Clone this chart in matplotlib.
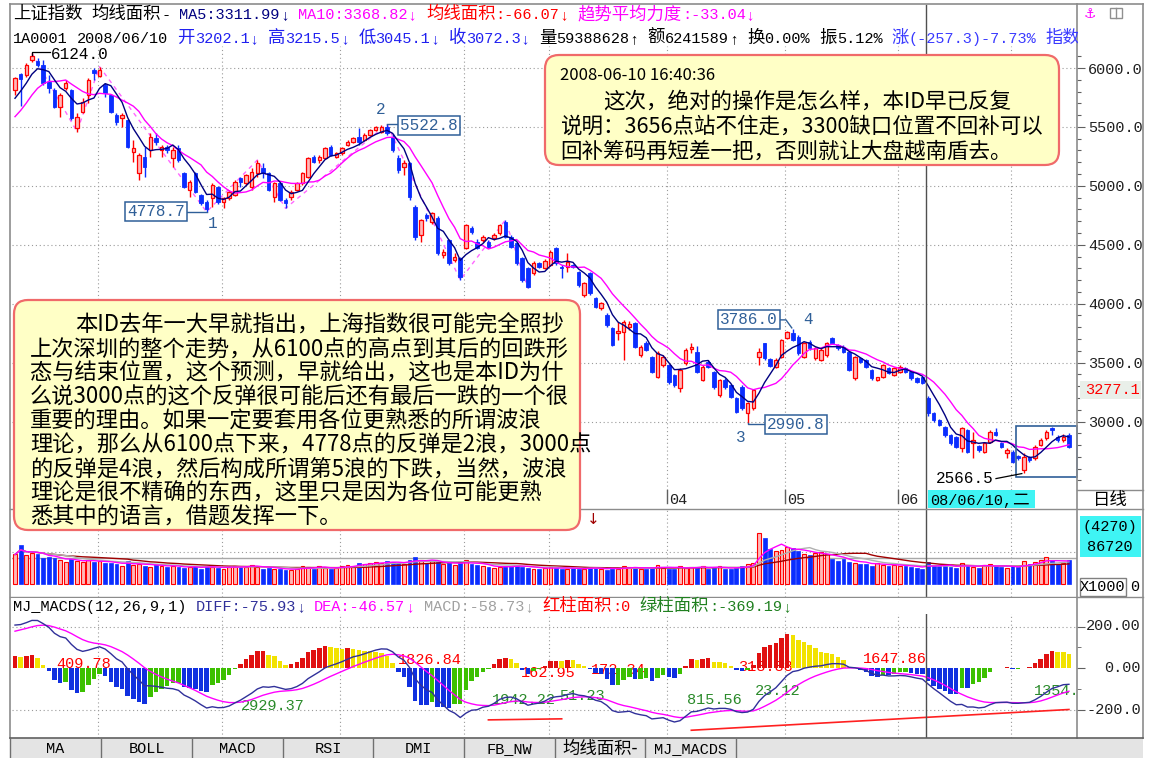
import numpy as np
import pandas as pd
import matplotlib
matplotlib.use("Agg")
import matplotlib.pyplot as plt
from matplotlib.patches import Rectangle, FancyBboxPatch

W, H = 1149, 758

# ---------------- data ----------------
open_p = [
    5813, 5950, 5941, 6068, 6062, 6025, 5884, 5813, 5672, 5827,
    5813, 5488, 5629, 5771, 5983, 5932, 5856, 5771, 5601, 5573,
    5559, 5290, 5106, 5247, 5304, 5403, 5304, 5332, 5233, 5318,
    5106, 4965, 5106, 4922, 4866, 4894, 4993, 4866, 4894, 4922,
    5064, 5021, 4993, 5106, 5148, 5106, 4908, 5021, 4880, 4908,
    4965, 5021, 5078, 5247, 5219, 5233, 5332, 5247, 5276, 5346,
    5375, 5417, 5389, 5431, 5474, 5460, 5502, 5417, 5233, 5163,
    5191, 4823, 4583, 4752, 4696, 4724, 4413, 4540, 4370, 4385,
    4470, 4640, 4526, 4540, 4526, 4555, 4597, 4696, 4569, 4512,
    4385, 4300, 4257, 4342, 4300, 4328, 4470, 4314, 4314, 4328,
    4271, 4073, 4257, 4045, 3960, 3904, 3790, 3755, 3762, 3800,
    3833, 3564, 3663, 3550, 3380, 3479, 3479, 3395, 3281, 3494,
    3615, 3592, 3352, 3508, 3423, 3225, 3352, 3310, 3196, 3295,
    3069, 3112, 3550, 3663, 3530, 3465, 3550, 3706, 3748, 3720,
    3550, 3677, 3536, 3522, 3564, 3706, 3649, 3635, 3592, 3366,
    3536, 3522, 3437, 3352, 3380, 3451, 3395, 3423, 3451, 3423,
    3366, 3374, 3202.1, 3069, 3013, 2956, 2885, 2871, 2772, 2928,
    2815, 2793, 2744, 2829, 2913, 2815, 2730, 2744, 2707, 2588,
    2696, 2687, 2800, 2856, 2942, 2871, 2843, 2885]
high_p = [
    5926, 5960, 6040, 6124.0, 6085, 6068, 5941, 5830, 5785, 5898,
    5820, 5615, 5743, 5912, 5997, 6011, 5870, 5780, 5615, 5615,
    5565, 5389, 5276, 5332, 5445, 5445, 5346, 5346, 5332, 5346,
    5115, 5049, 5120, 4930, 4880, 5021, 5000, 4908, 4965, 5050,
    5078, 5100, 5148, 5219, 5191, 5115, 5035, 5030, 4894, 4965,
    5030, 5115, 5245, 5260, 5262, 5330, 5345, 5290, 5330, 5385,
    5417, 5488, 5445, 5485, 5510, 5515, 5522.8, 5440, 5260, 5219,
    5200, 4840, 4720, 4770, 4780, 4740, 4460, 4550, 4430, 4400,
    4680, 4660, 4545, 4580, 4540, 4600, 4680, 4710, 4580, 4520,
    4395, 4310, 4360, 4355, 4375, 4455, 4480, 4330, 4427, 4340,
    4280, 4180, 4270, 4055, 4015, 3920, 3800, 3847, 3861, 3850,
    3845, 3650, 3680, 3560, 3600, 3565, 3490, 3405, 3450, 3620,
    3663, 3640, 3480, 3520, 3430, 3360, 3370, 3320, 3205, 3310,
    3165, 3280, 3621, 3670, 3540, 3535, 3700, 3770, 3786.0, 3735,
    3675, 3690, 3635, 3620, 3675, 3715, 3660, 3645, 3600, 3560,
    3545, 3530, 3445, 3380, 3490, 3460, 3460, 3480, 3460, 3430,
    3375, 3380, 3215.5, 3080, 3020, 2965, 2895, 2880, 2956, 2940,
    2913, 2800, 2825, 2925, 2942, 2830, 2772, 2755, 2715, 2730,
    2710, 2800, 2860, 2925, 2956, 2885, 2890, 2900]
low_p = [
    5771, 5680, 5926, 6050, 6010, 5856, 5785, 5660, 5587, 5813,
    5559, 5460, 5615, 5700, 5898, 5920, 5757, 5615, 5516, 5502,
    5320, 5205, 5049, 5078, 5247, 5346, 5247, 5276, 5163, 5205,
    4985, 4908, 4940, 4840, 4778.7, 4823, 4850, 4809, 4880, 4910,
    4993, 5010, 4965, 5078, 5064, 4955, 4866, 4870, 4809, 4880,
    4955, 5010, 5070, 5195, 5191, 5225, 5250, 5240, 5265, 5340,
    5360, 5346, 5380, 5420, 5465, 5450, 5430, 5290, 5110, 5092,
    4880, 4540, 4526, 4700, 4680, 4410, 4390, 4330, 4350, 4201,
    4460, 4590, 4460, 4520, 4470, 4540, 4585, 4555, 4470, 4330,
    4180, 4130, 4240, 4300, 4290, 4320, 4330, 4215, 4271, 4300,
    4140, 4060, 4075, 3960, 3950, 3800, 3640, 3692, 3522, 3780,
    3620, 3550, 3595, 3410, 3370, 3465, 3320, 3295, 3250, 3480,
    3578, 3410, 3340, 3450, 3280, 3210, 3280, 3200, 3070, 3100,
    2990.8, 3100, 3479, 3520, 3460, 3450, 3540, 3700, 3680, 3565,
    3540, 3610, 3525, 3510, 3550, 3655, 3610, 3585, 3425, 3355,
    3495, 3455, 3355, 3340, 3370, 3400, 3385, 3415, 3415, 3355,
    3330, 3320, 3045.1, 3000, 2960, 2870, 2800, 2775, 2744, 2730,
    2687, 2745, 2735, 2815, 2875, 2775, 2687, 2650, 2673, 2566.5,
    2660, 2675, 2790, 2845, 2885, 2830, 2830, 2775]
close_p = [
    5912, 5905, 6025, 6102, 6025, 5870, 5827, 5672, 5771, 5870,
    5573, 5587, 5714, 5898, 5955, 5983, 5785, 5629, 5545, 5601,
    5332, 5318, 5262, 5163, 5417, 5375, 5332, 5304, 5304, 5219,
    4993, 5035, 4950, 4851, 4803, 5007, 4866, 4894, 4950, 5035,
    5035, 5092, 5120, 5191, 5106, 4965, 5021, 4880, 4851, 4950,
    5021, 5106, 5233, 5205, 5247, 5318, 5262, 5276, 5318, 5375,
    5403, 5375, 5431, 5474, 5502, 5502, 5446, 5304, 5134, 5191,
    4908, 4569, 4710, 4724, 4766, 4427, 4441, 4342, 4400, 4229,
    4667, 4611, 4470, 4569, 4484, 4583, 4667, 4569, 4484, 4342,
    4201, 4144, 4342, 4314, 4365, 4441, 4342, 4300, 4356, 4314,
    4158, 4173, 4088, 3974, 4003, 3819, 3650, 3770, 3847, 3830,
    3635, 3635, 3607, 3423, 3578, 3550, 3338, 3310, 3437, 3607,
    3630, 3423, 3465, 3465, 3295, 3352, 3295, 3211, 3083, 3112,
    3154, 3267, 3586, 3536, 3473, 3522, 3692, 3762, 3692, 3578,
    3663, 3621, 3621, 3607, 3663, 3663, 3621, 3592, 3437, 3550,
    3508, 3465, 3366, 3374, 3479, 3409, 3451, 3465, 3423, 3366,
    3338, 3330, 3072.3, 3013, 2970, 2885, 2815, 2786, 2942, 2744,
    2843, 2758, 2815, 2913, 2885, 2786, 2758, 2659, 2687, 2696,
    2673, 2786, 2843, 2913, 2928, 2843, 2871, 2786]
volume = [
    80000, 105000, 78000, 85000, 80000, 70000, 74000, 70000, 66000, 60000,
    68000, 62000, 60000, 66000, 60000, 62000, 58000, 56000, 55000, 50000,
    62000, 52000, 54000, 50000, 47000, 55000, 48000, 46000, 50000, 45000,
    44000, 46000, 48000, 42000, 50000, 46000, 44000, 42000, 46000, 50000,
    48000, 46000, 52000, 46000, 42000, 44000, 40000, 42000, 38000, 38000,
    42000, 50000, 46000, 42000, 48000, 44000, 40000, 44000, 50000, 52000,
    50000, 56000, 54000, 58000, 60000, 56000, 62000, 60000, 58000, 54000,
    66000, 74000, 64000, 58000, 62000, 60000, 54000, 56000, 52000, 60000,
    64000, 54000, 52000, 48000, 46000, 44000, 46000, 50000, 48000, 52000,
    46000, 44000, 42000, 40000, 44000, 46000, 44000, 42000, 40000, 44000,
    42000, 40000, 46000, 44000, 40000, 38000, 44000, 42000, 48000, 46000,
    44000, 40000, 42000, 46000, 52000, 44000, 42000, 40000, 48000, 44000,
    46000, 44000, 48000, 42000, 46000, 48000, 40000, 42000, 44000, 50000,
    54000, 58000, 138000, 125000, 95000, 90000, 92000, 100000, 98000, 90000,
    80000, 78000, 84000, 86000, 80000, 68000, 62000, 68000, 60000, 58000,
    55000, 55000, 50000, 56000, 52000, 50000, 52000, 48000, 50000, 46000,
    44000, 42000, 59389, 52000, 50000, 48000, 46000, 44000, 56000, 52000,
    46000, 44000, 52000, 54000, 48000, 46000, 44000, 48000, 46000, 62000,
    54000, 60000, 66000, 72000, 64000, 54000, 58000, 64000]
warmup_close = [5380, 5400, 5420, 5450, 5505, 5600, 5690, 5720, 5793]
ema12_start = 5640
ema26_start = 5440
dea_start = 170

month_start = [15, 37, 58, 80, 95, 116, 137, 157, 177]
month_labels = ['', '', '', '', '', '04', '05', '06', '']   # others hidden behind boxes
price_ticks = [3000, 3500, 4000, 4500, 5000, 5500, 6000]
macd_ticks = [200, 0, -200]
macd_tick_labels = ['200.00', '0.00', '-200.0']
cursor_idx = 162
zig_idx = [3, 11, 15, 34, 43, 48, 66, 79, 87, 91]
zig_kind = ['H', 'L', 'H', 'L', 'H', 'L', 'H', 'L', 'H', 'L']
trend_idx = [[84, 97], [120, 187]]
trend_val = [[-250, -245], [-300, -200]]
area_labels = [('409.78', 'r', 7.3, 19), ('2929.37', 'g', 40.1, -183),
               ('1826.84', 'r', 68.0, 39), ('1942.22', 'g', 84.6, -154),
               ('162.95', 'r', 89.8, -24), ('51.23', 'g', 96.6, -136),
               ('172.34', 'r', 102.2, -10), ('815.56', 'g', 119.2, -154),
               ('318.88', 'r', 128.3, 5), ('23.12', 'g', 131.3, -111),
               ('1647.86', 'r', 150.5, 43), ('1354.87', 'g', 180.8, -111)]
tab_names = ['MA', 'BOLL', 'MACD', 'RSI', 'DMI', 'FB_NW', '均线面积-', 'MJ_MACDS']

left_note = ['本ID去年一大早就指出，上海指数很可能完全照抄',
             '上次深圳的整个走势，从6100点的高点到其后的回跌形',
             '态与结束位置，这个预测，早就给出，这也是本ID为什',
             '么说3000点的这个反弹很可能后还有最后一跌的一个很',
             '重要的理由。如果一定要套用各位更熟悉的所谓波浪',
             '理论，那么从6100点下来，4778点的反弹是2浪，3000点',
             '的反弹是4浪，然后构成所谓第5浪的下跌，当然，波浪',
             '理论是很不精确的东西，这里只是因为各位可能更熟',
             '悉其中的语言，借题发挥一下。']
right_note = ['2008-06-10 16:40:36',
              '这次，绝对的操作是怎么样，本ID早已反复',
              '说明：3656点站不住走，3300缺口位置不回补可以',
              '回补筹码再短差一把，否则就让大盘越南盾去。']

# ---------------- setup ----------------
MONO = ['Liberation Mono', 'DejaVu Sans Mono', 'DejaVu Sans']
CJK = ['Noto Sans CJK SC', 'DejaVu Sans']
plt.rcParams['font.family'] = CJK

RED = '#ff0000'
RED_FILL = '#ffb8b8'
BLUE = '#0a2dff'
NAVY = '#000080'
MAG = '#ff00ff'
LBL = '#2f5f98'
GRID = '#9a9a9a'
SEP = '#8c8c8c'

fig = plt.figure(figsize=(W / 100, H / 100), dpi=100)
fig.patch.set_facecolor('white')

X0, DX = 15.0, 5.636
P_PER_PX = 3000 / 353.5


def px2idx(px):
    return (px - X0) / DX


def idx2px(i):
    return X0 + DX * i


def ypx2price(y):
    return 6000 - (y - 68) * P_PER_PX


def price2ypx(p):
    return 68 + (6000 - p) / P_PER_PX


def add_axes_px(x0, y0, x1, y1, **kw):
    return fig.add_axes([x0 / W, 1 - y1 / H, (x1 - x0) / W, (y1 - y0) / H], **kw)


def clean(a):
    for s in a.spines.values():
        s.set_visible(False)
    a.set_facecolor('none')


o = np.array(open_p, float)
hi = np.array(high_p, float)
lo = np.array(low_p, float)
c = np.array(close_p, float)
v = np.array(volume, float)
n = len(c)
idx = np.arange(n)
up = c >= o
XL = (px2idx(12), px2idx(1077))
dotted = (0, (1, 2.5))

# ---------------- main price panel ----------------
ax = add_axes_px(12, 46, 1077, 490)
clean(ax)
ax.set_xlim(*XL)
ax.set_ylim(ypx2price(490), ypx2price(46))
for p in price_ticks:
    ax.axhline(p, color=GRID, lw=0.8, ls=dotted, zorder=0)
for m in month_start:
    ax.axvline(m - 0.3, color=GRID, lw=0.8, ls=dotted, zorder=0)

BW = 0.62
for i in range(n):
    if up[i]:
        ax.vlines(i, lo[i], hi[i], color=RED, lw=1, zorder=2)
        ax.add_patch(Rectangle((i - BW / 2, o[i]), BW, max(c[i] - o[i], 2),
                               facecolor=RED_FILL, edgecolor=RED, lw=0.9, zorder=3))
    else:
        ax.vlines(i, lo[i], hi[i], color=BLUE, lw=1, zorder=2)
        ax.add_patch(Rectangle((i - BW / 2, c[i]), BW, max(o[i] - c[i], 2),
                               facecolor=BLUE, edgecolor=BLUE, lw=0.6, zorder=3))

allc = pd.Series(warmup_close + list(c))
k0 = len(warmup_close)
ma5 = allc.rolling(5).mean().values[k0:]
ma10 = allc.rolling(10).mean().values[k0:]
ax.plot(idx, ma10, color=MAG, lw=1.0, zorder=4)
ax.plot(idx, ma5, color=NAVY, lw=1.0, zorder=4)

zz_y = [hi[i] if kk == 'H' else lo[i] for i, kk in zip(zig_idx, zig_kind)]
ax.plot(zig_idx, zz_y, color='#ff66ff', lw=1.0, ls=(0, (3, 3)), zorder=1.5)

# last-section frame
box_l = 177.6
box_b = lo[178:].min() - 38
box_t = hi[178:].max() + 3
ax.add_patch(Rectangle((box_l, box_b), XL[1] - box_l, box_t - box_b, fill=False,
                       edgecolor='#2f5f98', lw=1.2, zorder=5, clip_on=False))

ax.yaxis.tick_right()
ax.set_yticks(price_ticks)
ax.set_yticklabels(['%.1f' % p for p in price_ticks], fontfamily=MONO, fontsize=11, color='#202020')
ax.set_yticks(np.arange(2500, 6200, 100), minor=True)
ax.tick_params(axis='y', which='major', length=6, width=0.8, color='#606060', pad=2)
ax.tick_params(axis='y', which='minor', length=3, width=0.8, color='#606060')
ax.set_xticks([])

# ---------------- volume panel ----------------
VPP = 86720 / 32.0
axv = add_axes_px(12, 510, 1077, 597)
clean(axv)
axv.set_xlim(*XL)
axv.set_ylim(-(597 - 584) * VPP, (584 - 510) * VPP)
for m in month_start:
    axv.axvline(m - 0.3, color=GRID, lw=0.8, ls=dotted, zorder=0)
axv.axhline(86720, color=GRID, lw=0.8, ls=dotted, zorder=0)
axv.axhline(86720 * 26 / 32, color='#a8a8a8', lw=1.0, zorder=0.5)
axv.bar(idx[up], v[up], width=0.68, color=RED_FILL, edgecolor=RED, lw=0.8, zorder=2)
axv.bar(idx[~up], v[~up], width=0.68, color=BLUE, edgecolor=BLUE, lw=0.5, zorder=2)
vs = pd.Series(v)
axv.plot(idx, vs.rolling(20, min_periods=1).mean(), color='#a00000', lw=1.0, zorder=3)
axv.plot(idx, vs.rolling(10, min_periods=1).mean(), color='#b0b0b0', lw=1.0, zorder=3)
axv.plot(idx, vs.rolling(5, min_periods=1).mean(), color=MAG, lw=1.0, zorder=3)
axv.set_xticks([])
axv.set_yticks([])

# ---------------- MACD panel ----------------
MPP = 200 / 41.5
axm = add_axes_px(12, 597, 1077, 738)
clean(axm)
axm.set_xlim(*XL)
axm.set_ylim(-(738 - 668) * MPP, (668 - 597) * MPP)
for m in month_start:
    axm.axvline(m - 0.3, color=GRID, lw=0.8, ls=dotted, zorder=0)
for t in (200, -200):
    axm.axhline(t, color=GRID, lw=0.8, ls=dotted, zorder=0)

e12, e26, dea = ema12_start, ema26_start, dea_start
diff_l, dea_l = [], []
for cc in c:
    e12 = e12 + 2.0 / 13 * (cc - e12)
    e26 = e26 + 2.0 / 27 * (cc - e26)
    d = e12 - e26
    dea = dea + 2.0 / 10 * (d - dea)
    diff_l.append(d)
    dea_l.append(dea)
diff_a = np.array(diff_l)
dea_a = np.array(dea_l)
macd = 2 * (diff_a - dea_a)
prev = np.r_[macd[0], macd[:-1]]
cols = np.where(macd >= 0, np.where(macd >= prev, '#e01010', '#f2e200'),
                np.where(macd <= prev, '#1030e0', '#3cc000'))

for txt, kk, xi, yv in area_labels:
    axm.text(xi, yv, txt, color=RED if kk == 'r' else '#2a8a2a', fontsize=11,
             family=MONO, ha='left', va='center', zorder=1, clip_on=True)
axm.bar(idx, macd, width=0.8, color=cols, lw=0, zorder=2)
for ti, tv in zip(trend_idx, trend_val):
    axm.plot(ti, tv, color='#ff2020', lw=1.2, zorder=3)
axm.plot(idx, dea_a, color=MAG, lw=1.0, zorder=4)
axm.plot(idx, diff_a, color='#30309a', lw=1.0, zorder=4)
axm.yaxis.tick_right()
axm.set_yticks(macd_ticks)
axm.set_yticklabels([])
axm.set_yticks([100, -100], minor=True)
axm.tick_params(axis='y', which='major', length=6, color='#606060')
axm.tick_params(axis='y', which='minor', length=3, color='#606060')
axm.set_xticks([])

# ---------------- overlay (pixel space) ----------------
ov = fig.add_axes([0, 0, 1, 1])
ov.set_xlim(0, W)
ov.set_ylim(H, 0)
ov.axis('off')
ov.set_zorder(10)
ov.patch.set_alpha(0)
renderer = fig.canvas.get_renderer()


def is_cjk(ch):
    k = ord(ch)
    return (0x2E80 <= k <= 0x9FFF) or (0xFF00 <= k <= 0xFFEF) or (0x3000 <= k <= 0x303F)


def seq(x, y, parts, ms=11, cs=12.5, z=10):
    for s, col in parts:
        runs = []
        for ch in s:
            kk = 2 if ch == ' ' else (1 if is_cjk(ch) else 0)
            if runs and runs[-1][0] == kk:
                runs[-1][1] += ch
            else:
                runs.append([kk, ch])
        for kk, t in runs:
            if kk == 2:
                x += len(t) * ms * 0.6 * 100 / 72
                continue
            tx = ov.text(x, y, t, color=col, fontsize=cs if kk == 1 else ms,
                         family=CJK if kk == 1 else MONO, ha='left', va='baseline', zorder=z)
            x += tx.get_window_extent(renderer).width
    return x


# cursor line
cx = idx2px(cursor_idx) - 2
ov.plot([cx, cx], [5, 738], color='#505050', lw=1, zorder=1)

# frame / separators
ov.plot([10, 10], [4, 738], color=SEP, lw=1.2, zorder=6)
ov.plot([10, 1143], [4, 4], color=SEP, lw=1.2, zorder=6)
ov.plot([1143, 1143], [4, 738], color=SEP, lw=1.2, zorder=6)
ov.plot([1077, 1077], [4, 738], color=SEP, lw=1.2, zorder=6)
ov.plot([10, 1143], [509, 509], color=SEP, lw=1, zorder=6)
ov.plot([1077, 1143], [490, 490], color=SEP, lw=1, zorder=6)
ov.plot([10, 1143], [597, 597], color=SEP, lw=1, zorder=6)
ov.plot([10, 1143], [738, 738], color='#606060', lw=1.2, zorder=6)

# header rows
seq(13, 19, [('上证指数 均线面积- ', 'black'), ('MA5:3311.99', NAVY), ('↓ ', NAVY),
             ('MA10:3368.82', MAG), ('↓ ', MAG), ('均线面积:-66.07', RED), ('↓ ', RED),
             ('趋势平均力度:-33.04', MAG), ('↓', MAG)])
seq(13, 43, [('1A0001 2008/06/10 ', 'black'), ('开3202.1', '#2020f0'), ('↓ ', '#2020f0'),
             ('高3215.5', '#2020f0'), ('↓ ', '#2020f0'), ('低3045.1', '#2020f0'), ('↓ ', '#2020f0'),
             ('收3072.3', '#2020f0'), ('↓ ', '#2020f0'), ('量59388628', 'black'), ('↑ ', 'black'),
             ('额6241589', 'black'), ('↑ ', 'black'), ('换0.00% ', 'black'), ('振5.12% ', 'black'),
             ('涨(-257.3)-7.73% ', '#3a3aff'), ('指数', '#3a3aff')], z=9)
ov.add_patch(Rectangle((1078, 5), 64, 40, facecolor='white', edgecolor='none', zorder=9.5))
ov.text(1084, 14, '⚓', color=MAG, fontsize=10, family=['DejaVu Sans'], ha='left', va='center', zorder=12)
ov.add_patch(Rectangle((1110, 8), 12, 10, facecolor='white', edgecolor='#909090', lw=1, zorder=12))
ov.plot([1116, 1116], [8, 18], color='#909090', lw=1, zorder=12)


# price point labels
def boxed(x, y, s, ha):
    ov.text(x, y, s, color=LBL, fontsize=11.5, family=MONO, ha=ha, va='center', zorder=8,
            bbox=dict(boxstyle='square,pad=0.12', fc='white', ec=LBL, lw=1.1))


i_top = int(np.argmax(hi))
px, py = idx2px(i_top), price2ypx(hi[i_top])
ov.plot([px, px, px + 18], [py + 2, py - 1, py - 1], color='black', lw=0.9, zorder=8)
ov.text(px + 19, py + 1, '%.1f' % hi[i_top], color='black', fontsize=11.5, family=MONO,
        ha='left', va='center', zorder=8)

i2 = 40 + int(np.argmax(hi[40:100]))
px, py = idx2px(i2), price2ypx(hi[i2])
ov.plot([px, 398], [py, py], color=LBL, lw=1, zorder=7)
boxed(400, py + 1, '%.1f' % hi[i2], 'left')
ov.text(px - 6, py - 15, '2', color=LBL, fontsize=11.5, family=MONO, ha='center', va='center', zorder=8)

i1 = 20 + int(np.argmin(lo[20:50]))
px, py = idx2px(i1), price2ypx(lo[i1])
ov.plot([187, px], [py, py], color=LBL, lw=1, zorder=7)
boxed(185, py, '%.1f' % lo[i1], 'right')
ov.text(px + 6, py + 12, '1', color=LBL, fontsize=11.5, family=MONO, ha='center', va='center', zorder=8)

i3 = 110 + int(np.argmin(lo[110:140]))
px, py = idx2px(i3), price2ypx(lo[i3])
ov.plot([px, px, 765], [py, py + 1.5, py + 1.5], color=LBL, lw=1, zorder=7)
boxed(767, py + 2, '%.1f' % lo[i3], 'left')
ov.text(px - 7, py + 15, '3', color=LBL, fontsize=11.5, family=MONO, ha='center', va='center', zorder=8)

i4 = 130 + int(np.argmax(hi[130:160]))
px, py = idx2px(i4), price2ypx(hi[i4])
ov.plot([779, 786, px - 1], [py - 9, py - 9, py - 1], color=LBL, lw=1, zorder=7)
boxed(778, py - 9, '%.1f' % hi[i4], 'right')
ov.text(px + 15, py - 9, '4', color=LBL, fontsize=11.5, family=MONO, ha='center', va='center', zorder=8)

i5 = 170 + int(np.argmin(lo[170:]))
px, py = idx2px(i5), price2ypx(lo[i5])
ov.plot([996, px - 2], [py + 6, py + 1], color='black', lw=0.9, zorder=8)
ov.text(994, py + 6, '%.1f' % lo[i5], color='black', fontsize=11.5, family=MONO,
        ha='right', va='center', zorder=8)

# date row
for m, lab in zip(month_start, month_labels):
    xm = idx2px(m - 0.3)
    ov.plot([xm, xm], [490, 503], color='#606060', lw=1, zorder=3)
    if lab:
        ov.text(xm + 2, 500, lab, color='#202020', fontsize=11, family=MONO, ha='left', va='center', zorder=3)
ov.add_patch(Rectangle((cx + 2, 490), 107, 18, facecolor='#3ff4f4', edgecolor='none', zorder=7))
seq(cx + 4, 505, [('08/06/10,二', 'black')], ms=11, cs=12)
ov.text(1110, 500, '日线', color='black', fontsize=12.5, family=CJK, ha='center', va='center', zorder=8)

# right axis extras
ov.add_patch(Rectangle((1080, 381), 61, 18, facecolor='#e9efe9', edgecolor='none', zorder=7))
ov.text(1085, 390, '3277.1', color=RED, fontsize=11, family=MONO, ha='left', va='center', zorder=8)
ov.add_patch(Rectangle((1080, 516), 61, 41, facecolor='#3ff4f4', edgecolor='none', zorder=7))
ov.text(1110, 527, '(4270)', color='black', fontsize=11, family=MONO, ha='center', va='center', zorder=8)
ov.text(1110, 547, '86720', color='black', fontsize=11, family=MONO, ha='center', va='center', zorder=8)
ov.add_patch(Rectangle((1080, 578), 46, 18, facecolor='white', edgecolor='#808080', lw=1, zorder=7))
ov.text(1103, 587, 'X1000', color='black', fontsize=11, family=MONO, ha='center', va='center', zorder=8)
ov.text(1135, 587, '0', color='black', fontsize=11, family=MONO, ha='center', va='center', zorder=8)
for t, lab in zip(macd_ticks, macd_tick_labels):
    ov.text(1141, 668 - t / MPP, lab, color='#202020', fontsize=11, family=MONO,
            ha='right', va='center', zorder=8)
ov.text(593, 519, '↓', color='#a00000', fontsize=11, family=['DejaVu Sans'], ha='center', va='center', zorder=8)

# MACD header
ov.add_patch(Rectangle((11, 598), 1065, 16, facecolor='white', edgecolor='none', zorder=6))
seq(13, 611, [('MJ_MACDS(12,26,9,1) ', 'black'), ('DIFF:-75.93', '#30309a'), ('↓ ', '#30309a'),
              ('DEA:-46.57', MAG), ('↓ ', MAG), ('MACD:-58.73', '#a0a0a0'), ('↓ ', '#a0a0a0'),
              ('红柱面积:0 ', RED), ('绿柱面积:-369.19', '#208020'), ('↓', '#208020')])

# tabs
ov.add_patch(Rectangle((10, 738), 1133, 20, facecolor='#e4e4e4', edgecolor='none', zorder=5))
seps = [10, 101, 192, 283, 373, 464, 555, 645, 736]
for s in seps:
    ov.plot([s, s], [739, 758], color='#707070', lw=1, zorder=6)
for a, b, name in zip(seps[:-1], seps[1:], tab_names):
    if any(is_cjk(ch) for ch in name):
        ov.text((a + b) / 2, 749, name, color='black', fontsize=12.5, family=CJK, ha='center', va='center', zorder=7)
    else:
        ov.text((a + b) / 2, 749, name, color='black', fontsize=11, family=MONO, ha='center', va='center', zorder=7)

# note boxes
ov.add_patch(FancyBboxPatch((14, 300), 566, 230, boxstyle='round,pad=0,rounding_size=14',
                            facecolor='#ffffc6', edgecolor='#f06a6a', lw=1.6, zorder=20))
for k, line in enumerate(left_note):
    ov.text(75 if k == 0 else 30, 325 + 24 * k, line, color='black', fontsize=16, family=CJK,
            ha='left', va='center', zorder=21)
ov.add_patch(FancyBboxPatch((545, 55), 514, 110, boxstyle='round,pad=0,rounding_size=14',
                            facecolor='#ffffc6', edgecolor='#f06a6a', lw=1.6, zorder=20))
ov.text(560, 76, right_note[0], color='black', fontsize=12, family=CJK, ha='left', va='center', zorder=21)
ov.text(603, 102, right_note[1], color='black', fontsize=15.5, family=CJK, ha='left', va='center', zorder=21)
ov.text(560, 127, right_note[2], color='black', fontsize=15.5, family=CJK, ha='left', va='center', zorder=21)
ov.text(560, 152, right_note[3], color='black', fontsize=15.5, family=CJK, ha='left', va='center', zorder=21)

fig.savefig('out.png', dpi=100, facecolor='white')
